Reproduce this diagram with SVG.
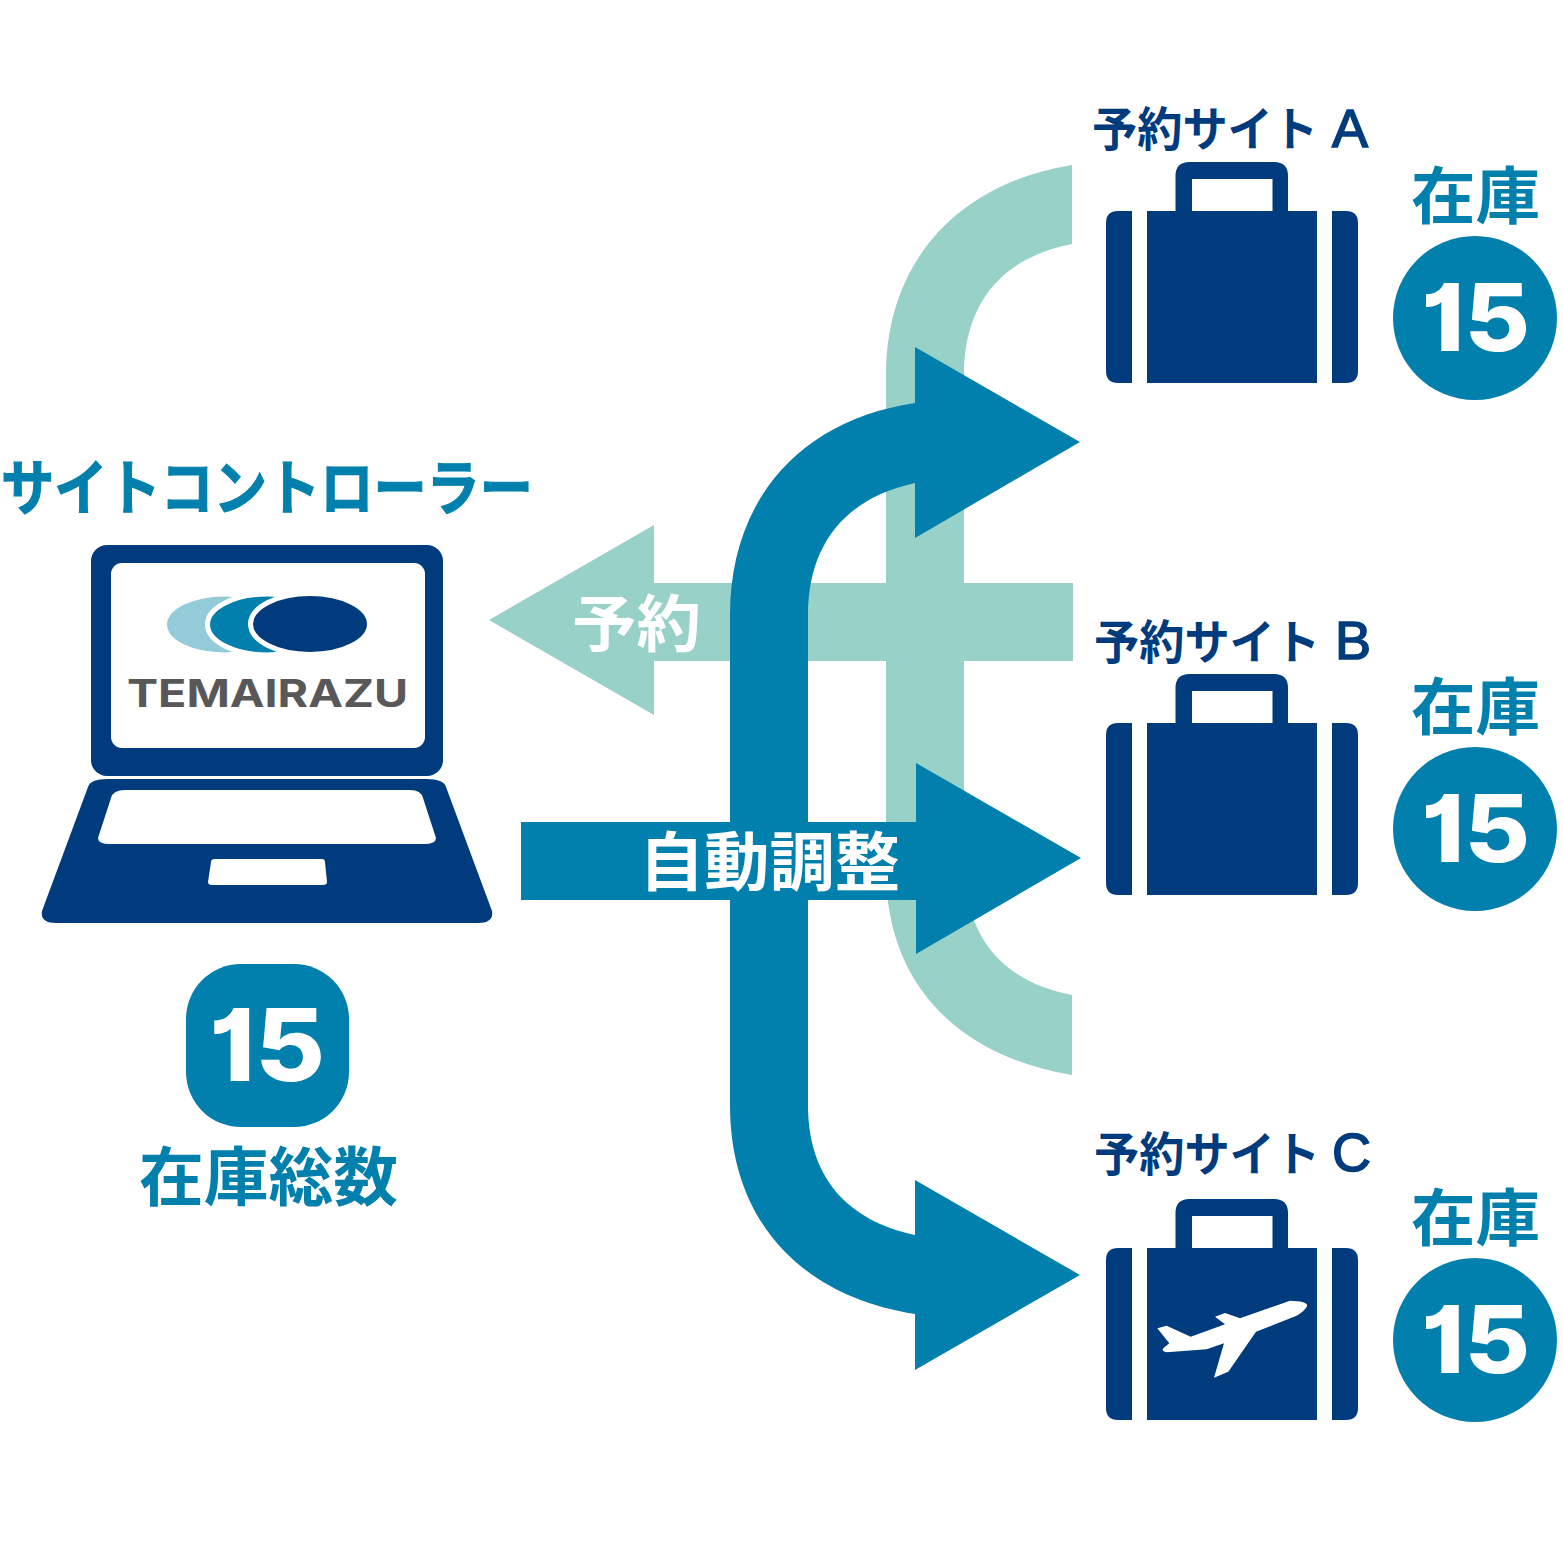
<svg xmlns="http://www.w3.org/2000/svg" xmlns:xlink="http://www.w3.org/1999/xlink" width="1563" height="1563" viewBox="0 0 1563 1563">
<style>
.jp{font-family:"Noto Sans CJK JP","Noto Sans",sans-serif;font-weight:700}
.lat{font-family:"Liberation Sans",Arial,sans-serif;font-weight:400;stroke:#003c7d;stroke-width:1.6}
.num{font-family:Inter,"Liberation Sans",sans-serif;font-weight:800;fill:#fff;font-feature-settings:"cv01"}
.teal{fill:#0280ad}.navy{fill:#003c7d}.mint{fill:#97d1c7}.white{fill:#fff}
</style>
<defs>
<path id="case" class="navy" d="M1147 211H1175.5V176Q1175.5 162 1189.500 162H1274Q1288 162 1288 176V211H1317V383H1147ZM1192 179V211H1272.500V179ZM1132 211V383H1118Q1106 383 1106 371V223Q1106 211 1118 211ZM1332 211H1346Q1358 211 1358 223V371Q1358 383 1346 383H1332Z" fill-rule="evenodd"/>
<g id="stock">
<text class="jp teal" x="1411" y="219" font-size="62" textLength="129" lengthAdjust="spacingAndGlyphs">在庫</text>
<circle class="teal" cx="1475" cy="318" r="82"/>
<text class="num" x="1421" y="351" font-size="94" textLength="109" lengthAdjust="spacingAndGlyphs">15</text>
</g>
</defs>
<rect width="1563" height="1563" fill="#fff"/>
<g id="connectors">
<path class="mint" d="M1072 165V244C1000 258 964 305 964 375V860C964 940 1005 982 1072 995V1075C960 1057 886 985 886 870V375C886 260 960 183 1072 165Z"/>
<path class="mint" d="M489 620L654 525V583H1073V661H654V715Z"/>
<path class="teal" d="M730 1105V615C730 500 800 420 915 403V347L1080 442L915 538V483C845 498 808 545 808 615V1105C808 1175 845 1220 915 1235V1180L1080 1275L915 1370V1314C800 1296 730 1220 730 1105Z"/>
<path class="teal" d="M521 822H916V763L1081 858L916 954V900H521Z"/>
<text class="jp white" x="572" y="647" font-size="62" textLength="129" lengthAdjust="spacingAndGlyphs">予約</text>
<text class="jp white" x="639" y="885" font-size="64" textLength="261" lengthAdjust="spacingAndGlyphs">自動調整</text>
</g>
<g id="controller">
<text class="jp teal" x="1" y="510" font-size="60" stroke="#0280ad" stroke-width="1.2" textLength="532" lengthAdjust="spacingAndGlyphs">サイトコントローラー</text>
<rect class="navy" x="91" y="545" width="352" height="231" rx="16"/>
<rect class="white" x="111" y="563" width="314" height="185" rx="11"/>
<path class="navy" d="M88 787Q90 779 108 779H426Q444 779 446 787L492 911Q494 923 478 923H56Q40 923 42 911Z"/>
<path class="white" d="M111 798Q113 790 125 790H410Q421 790 423 798L436 838Q436 844 424 844H110Q98 844 98 838Z"/>
<path class="white" d="M211 862Q211 859 215 859H322Q325 859 325 862L327 882Q327 885 323 885H212Q208 885 208 882Z"/>
<ellipse cx="224" cy="624.500" rx="57" ry="28" fill="#93cbd9"/>
<ellipse cx="267" cy="624.500" rx="59.500" ry="30.500" fill="#0280ad" stroke="#fff" stroke-width="5"/>
<ellipse cx="310" cy="624" rx="59.500" ry="30.500" fill="#003c7d" stroke="#fff" stroke-width="5"/>
<text x="127" y="707" font-family="Inter,'Liberation Sans',sans-serif" font-weight="700" font-size="38.500" fill="#595757" textLength="281" lengthAdjust="spacingAndGlyphs">TEMAIRAZU</text>
</g>
<g id="total">
<rect class="teal" x="186" y="964" width="163" height="163" rx="55"/>
<text class="num" x="209" y="1081" font-size="100" textLength="116" lengthAdjust="spacingAndGlyphs">15</text>
<text class="jp teal" x="139" y="1200" font-size="64" textLength="259" lengthAdjust="spacingAndGlyphs">在庫総数</text>
</g>
<g id="site-a">
<text class="jp navy" x="1092" y="146" font-size="47" textLength="226" lengthAdjust="spacingAndGlyphs">予約サイト</text>
<text class="lat navy" x="1332" y="147" font-size="54">A</text>
<use xlink:href="#case" href="#case"/>
<use xlink:href="#stock" href="#stock"/>
</g>
<g id="site-b">
<text class="jp navy" x="1094" y="659" font-size="47" textLength="226" lengthAdjust="spacingAndGlyphs">予約サイト</text>
<text class="lat navy" x="1335" y="659" font-size="54">B</text>
<use xlink:href="#case" href="#case" y="512"/>
<use xlink:href="#stock" href="#stock" y="511"/>
</g>
<g id="site-c">
<text class="jp navy" x="1094" y="1171" font-size="47" textLength="226" lengthAdjust="spacingAndGlyphs">予約サイト</text>
<text class="lat navy" x="1332" y="1171" font-size="54">C</text>
<use xlink:href="#case" href="#case" y="1037"/>
<use xlink:href="#stock" href="#stock" y="1022"/>
<path class="white" d="M1157.300 1328.300L1166.700 1325.700L1190.700 1336.700L1225 1324.300L1215 1316.700L1225 1313L1240 1318.300L1290 1300.700L1300 1301.500Q1307.300 1303 1307.300 1305.700Q1305 1311 1296 1316L1256 1331.700L1228.300 1371.700L1214 1377.700L1224 1343.300L1206.700 1349.300L1166.700 1352.300Q1161 1351 1163.300 1348.300L1169.300 1343.300Z"/>
</g>
</svg>
